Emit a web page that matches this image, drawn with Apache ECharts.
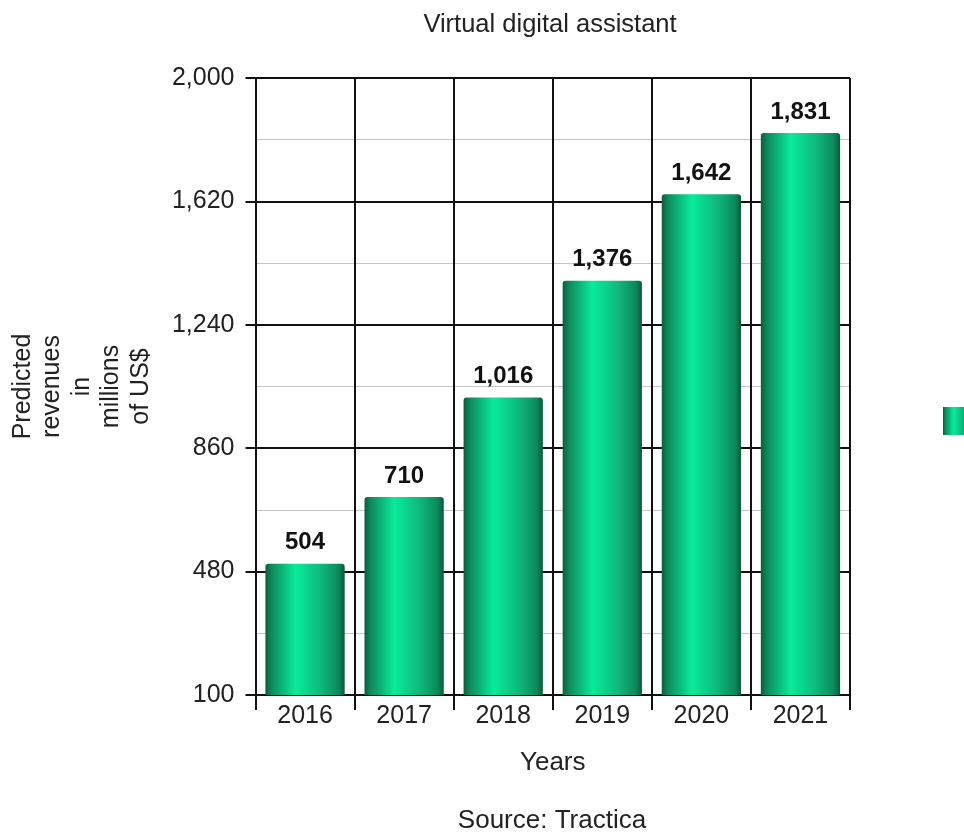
<!DOCTYPE html>
<html>
<head>
<meta charset="utf-8">
<style>
  html, body { margin: 0; padding: 0; background: #ffffff; }
  #chart { width: 964px; height: 834px; }
</style>
<script src="https://cdn.jsdelivr.net/npm/echarts@6/dist/echarts.min.js"></script>
</head>
<body>
<div id="chart"></div>
<script>
// Predicted revenues of virtual digital assistants (millions of US$)
const years = ['2016', '2017', '2018', '2019', '2020', '2021'];
const revenues = [504, 710, 1016, 1376, 1642, 1831];
const yTicks = [100, 480, 860, 1240, 1620, 2000];

const FONT = '"Liberation Sans", Arial, sans-serif';
const INK = '#222';
const LINE = '#111';

const chart = echarts.init(document.getElementById('chart'), null, { renderer: 'canvas' });

// horizontal shading that gives each bar its cylinder look
const barFill = new echarts.graphic.LinearGradient(0, 0, 1, 0, [
  { offset: 0.00, color: '#0a5e3f' },
  { offset: 0.08, color: '#0f8a5c' },
  { offset: 0.38, color: '#08ec9a' },
  { offset: 0.70, color: '#0fb87c' },
  { offset: 0.92, color: '#0c8a5c' },
  { offset: 1.00, color: '#0a5a3c' }
]);

chart.setOption({
  animation: false,
  backgroundColor: '#ffffff',
  legend: {
    left: 938,
    top: 402,
    icon: 'rect',
    itemWidth: 28,
    itemHeight: 28,
    textStyle: { fontFamily: FONT, fontSize: 25, color: INK },
    data: ['Revenues']
  },
  graphic: [
    {
      type: 'text',
      x: 550,
      y: 25,
      style: {
        text: 'Virtual digital assistant', font: '25.5px ' + FONT, fill: INK,
        align: 'center', verticalAlign: 'middle'
      }
    },
    {
      type: 'text',
      x: 552,
      y: 821,
      style: {
        text: 'Source: Tractica', font: '26px ' + FONT, fill: INK,
        align: 'center', verticalAlign: 'middle'
      }
    }
  ],
  grid: { left: 253, right: 114, top: 78, bottom: 139, containLabel: false },
  xAxis: {
    type: 'category',
    data: years,
    name: 'Years',
    nameLocation: 'middle',
    nameGap: 55,
    nameTextStyle: { fontFamily: FONT, fontSize: 26, color: INK },
    axisLine: { show: true, lineStyle: { color: LINE, width: 2 } },
    axisTick: { show: true, length: 15, lineStyle: { color: LINE, width: 2 } },
    axisLabel: { fontFamily: FONT, fontSize: 25, color: INK, margin: 9 },
    splitLine: { show: true, interval: 0, lineStyle: { color: LINE, width: 2 } }
  },
  yAxis: {
    type: 'value',
    min: yTicks[0],
    max: yTicks[yTicks.length - 1],
    interval: yTicks[1] - yTicks[0],
    name: 'Predicted\nrevenues\nin\nmillions\nof US$',
    nameLocation: 'middle',
    nameRotate: 90,
    nameGap: 100,
    nameTextStyle: { fontFamily: FONT, fontSize: 25, color: INK, lineHeight: 29.5, align: 'center' },
    axisLine: { show: true, lineStyle: { color: LINE, width: 2 } },
    axisTick: { show: true, length: 10, lineStyle: { color: LINE, width: 2 } },
    axisLabel: {
      fontFamily: FONT, fontSize: 25, color: INK, margin: 21,
      formatter: v => v.toLocaleString('en-US')
    },
    splitLine: { show: true, lineStyle: { color: LINE, width: 2 } },
    minorTick: { show: false, splitNumber: 2 },
    minorSplitLine: { show: true, lineStyle: { color: '#c4c4c4', width: 1 } }
  },
  series: [{
    name: 'Revenues',
    type: 'bar',
    data: revenues,
    barCategoryGap: '20%',
    itemStyle: { color: barFill, borderRadius: [3, 3, 0, 0] },
    label: {
      show: true,
      position: 'top',
      distance: 9,
      fontFamily: FONT,
      fontSize: 24,
      fontWeight: 'bold',
      color: LINE,
      formatter: p => p.value.toLocaleString('en-US')
    }
  }]
});
</script>
</body>
</html>
